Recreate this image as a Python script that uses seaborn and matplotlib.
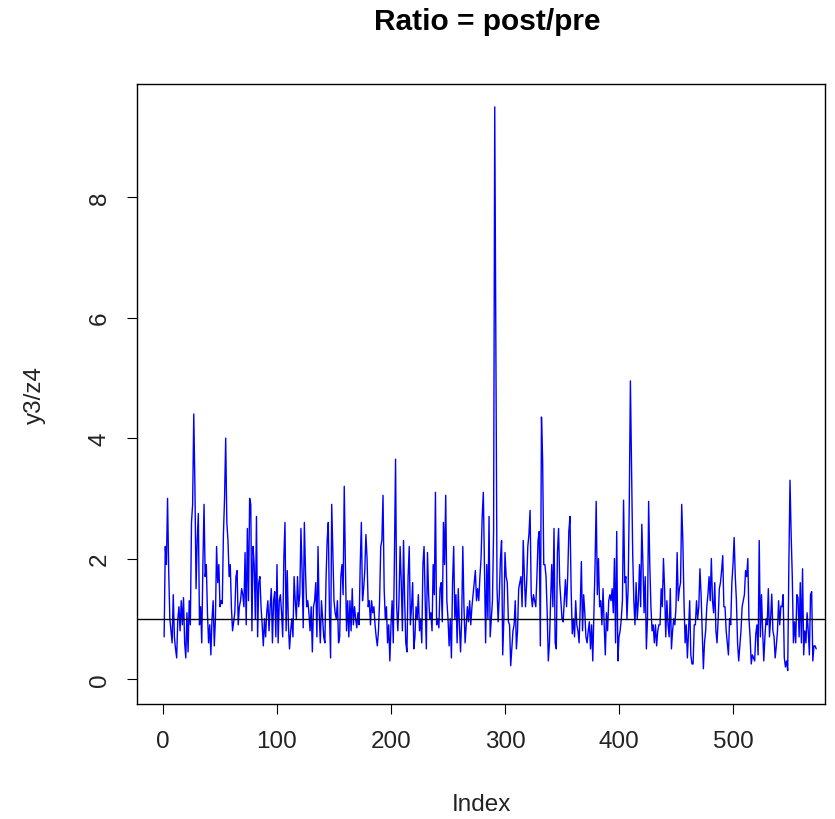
import numpy as np
import pandas as pd
import matplotlib
matplotlib.use("Agg")
import matplotlib.pyplot as plt
import seaborn as sns

# ratio values, in index order (chunks of the series)
ratio_001_055 = [0.7, 2.2, 1.9, 3.0, 1.8, 1.0, 0.8, 0.6, 1.4, 0.7, 0.5, 0.35, 1.0, 1.2, 0.8, 1.3, 0.9, 1.35, 0.6, 0.35,
                 1.1, 0.45, 1.3, 0.9, 2.6, 2.9, 4.4, 3.2, 1.5, 2.3, 2.75, 0.9, 1.2, 0.6, 1.9, 2.9, 1.7, 1.9, 1.1, 0.6,
                 0.9, 0.4, 1.0, 1.3, 0.55, 1.0, 2.2, 1.6, 1.9, 1.2, 1.3, 1.25, 2.4, 3.0, 4.0]
ratio_056_114 = [2.6, 2.3, 1.7, 1.9, 1.2, 0.8, 0.95, 1.1, 1.7, 1.8, 0.9, 1.2, 1.3, 1.5, 1.4, 1.2, 2.1, 0.9, 2.5, 1.3,
                 3.0, 2.9, 0.8, 2.2, 1.9, 1.0, 2.7, 0.7, 1.6, 1.7, 1.2, 0.9, 0.55, 1.0, 0.7, 1.1, 1.3, 0.8, 1.2, 1.5,
                 0.6, 1.3, 1.45, 0.7, 1.9, 0.6, 1.3, 1.4, 1.1, 0.7, 2.0, 2.6, 0.8, 1.8, 0.9, 0.5, 0.8, 1.0, 0.7]
ratio_115_175 = [1.7, 1.3, 1.0, 1.7, 1.2, 1.4, 2.5, 1.8, 0.85, 2.6, 1.8, 1.2, 1.3, 1.1, 0.8, 1.2, 0.45, 1.2, 1.3, 1.6,
                 0.7, 2.2, 1.1, 0.6, 1.3, 1.0, 0.7, 0.6, 1.65, 2.3, 2.6, 1.1, 0.35, 2.9, 2.1, 1.3, 1.1, 1.0, 1.3, 0.6,
                 0.7, 1.7, 1.9, 1.4, 3.2, 1.9, 0.8, 1.3, 0.7, 1.3, 0.8, 1.5, 0.9, 1.2, 1.0, 0.85, 1.1, 0.9, 1.9, 2.6,
                 1.3]
ratio_176_234 = [1.5, 1.8, 2.4, 2.0, 1.2, 1.3, 0.9, 1.3, 1.1, 1.2, 0.9, 0.7, 0.55, 0.8, 1.3, 2.2, 2.3, 3.05, 1.5, 1.0,
                 1.2, 0.6, 0.9, 0.3, 0.9, 1.3, 0.6, 2.0, 3.65, 1.2, 0.8, 1.3, 2.2, 1.6, 0.8, 2.3, 1.3, 0.6, 0.45, 1.7,
                 2.2, 0.9, 1.2, 1.6, 0.5, 0.7, 1.2, 1.0, 1.4, 0.8, 1.0, 0.6, 1.9, 2.2, 1.3, 0.5, 2.1, 1.4, 1.0]
ratio_235_292 = [1.1, 0.8, 1.9, 1.4, 3.1, 0.9, 1.0, 0.85, 1.5, 1.6, 0.95, 2.6, 1.9, 3.05, 1.3, 1.0, 0.55, 1.0, 0.35, 1.6,
                 2.2, 1.0, 1.4, 0.6, 1.5, 0.9, 0.45, 1.0, 2.2, 1.2, 0.6, 0.9, 1.2, 0.95, 1.3, 0.9, 1.2, 1.4, 1.6, 1.8,
                 1.3, 1.5, 1.3, 1.7, 2.0, 2.7, 3.1, 1.8, 0.6, 1.9, 1.0, 2.7, 0.7, 1.0, 1.3, 2.45, 9.5, 5.65]
ratio_293_353 = [1.5, 0.95, 1.4, 2.0, 2.3, 0.4, 1.0, 2.1, 1.7, 1.6, 0.95, 0.9, 0.22, 0.5, 0.8, 0.9, 1.3, 0.5, 0.8, 1.5,
                 1.6, 1.7, 1.2, 2.3, 1.7, 1.2, 1.6, 2.2, 2.4, 2.8, 1.4, 1.2, 1.4, 1.3, 1.2, 1.7, 2.3, 2.45, 0.55, 4.35,
                 3.65, 1.9, 1.9, 1.7, 1.1, 0.3, 0.6, 1.3, 1.9, 1.2, 2.5, 0.6, 0.5, 2.1, 2.5, 1.6, 1.3, 1.0, 0.95, 1.3,
                 1.65]
ratio_354_411 = [1.2, 1.7, 2.45, 2.7, 1.5, 0.75, 1.0, 0.7, 1.3, 0.9, 0.8, 0.6, 1.2, 1.95, 0.8, 1.4, 1.1, 0.7, 0.6, 0.8,
                 0.95, 0.5, 0.9, 0.3, 1.1, 1.9, 2.95, 1.4, 2.0, 1.2, 1.3, 0.9, 1.5, 0.9, 0.4, 1.1, 0.8, 1.3, 1.4, 1.3,
                 1.5, 1.1, 2.0, 0.6, 2.45, 0.3, 0.7, 0.8, 1.0, 1.3, 2.97, 1.6, 1.7, 1.0, 1.5, 2.9, 4.95, 3.55]
ratio_412_469 = [2.1, 1.3, 0.9, 1.6, 1.0, 1.3, 1.9, 1.2, 2.57, 1.9, 1.1, 1.7, 0.5, 1.0, 2.95, 1.9, 1.2, 0.8, 0.9, 0.6,
                 0.9, 0.55, 0.8, 0.9, 0.9, 1.5, 1.2, 2.0, 1.5, 0.7, 1.3, 0.9, 0.7, 1.5, 0.5, 0.8, 1.0, 0.9, 1.2, 2.1,
                 1.3, 1.5, 1.6, 2.9, 2.3, 1.3, 0.6, 0.9, 0.35, 0.8, 1.3, 0.4, 0.25, 0.25, 0.9, 0.9, 1.3, 1.0]
ratio_470_528 = [1.2, 1.83, 1.4, 0.8, 0.17, 0.6, 0.8, 1.2, 1.4, 1.7, 1.3, 2.0, 1.3, 1.1, 1.6, 0.8, 0.6, 1.0, 1.5, 1.6,
                 1.8, 2.05, 1.2, 1.2, 0.8, 0.6, 0.4, 1.0, 0.9, 1.6, 1.9, 2.35, 1.7, 1.3, 0.6, 0.3, 0.55, 0.8, 1.2, 1.3,
                 1.4, 1.8, 1.7, 2.0, 1.0, 0.7, 0.25, 0.4, 0.35, 0.3, 0.75, 0.9, 0.4, 2.3, 0.7, 1.4, 0.8, 0.3, 0.7]
ratio_529_573 = [1.0, 0.9, 1.5, 0.7, 1.0, 1.41, 0.8, 0.7, 0.35, 0.55, 0.8, 1.3, 0.9, 1.21, 1.2, 1.4, 0.35, 0.2, 0.3, 0.14,
                 1.9, 3.3, 2.4, 1.7, 0.6, 0.95, 0.6, 1.4, 1.35, 0.7, 1.6, 0.6, 1.83, 0.4, 0.8, 0.6, 1.1, 0.8, 0.4, 1.4,
                 1.45, 0.3, 0.55, 0.55, 0.5]

ref_level = 1.0
x_ticks = [0, 100, 200, 300, 400, 500]
y_ticks = [0, 2, 4, 6, 8]

ratio = np.concatenate([ratio_001_055, ratio_056_114, ratio_115_175, ratio_176_234, ratio_235_292,
                        ratio_293_353, ratio_354_411, ratio_412_469, ratio_470_528, ratio_529_573])
df = pd.DataFrame({"Index": np.arange(1, len(ratio) + 1), "ratio": ratio})

sns.set_theme(style="white")
plt.rcParams["font.family"] = ["Liberation Sans", "DejaVu Sans"]

W, H = 835, 820
fig = plt.figure(figsize=(W / 100, H / 100), dpi=100)
left, right, top, bottom = 137, 825, 85, 705
ax = fig.add_axes([left / W, 1 - bottom / H, (right - left) / W, (bottom - top) / H])

sns.lineplot(data=df, x="Index", y="ratio", color="#0000FF", linewidth=1.0, ax=ax)
ax.axhline(ref_level, color="black", linewidth=1.0)

ax.set_xlim(-22.8, 580.7)
ax.set_ylim(-0.415, 9.88)
ax.set_xticks(x_ticks)
ax.set_yticks(y_ticks)
ax.tick_params(axis="both", direction="out", length=7, width=0.8, color="black",
               labelsize=17.5, labelcolor="#222222", pad=12, bottom=True, left=True)
plt.setp(ax.get_yticklabels(), rotation=90, va="center")
for s in ax.spines.values():
    s.set_color("black")
    s.set_linewidth(1.0)

ax.set_xlabel("Index", fontsize=17.5, color="#222222")
ax.set_ylabel("y3/z4", fontsize=17.5, color="#222222")
ax.xaxis.set_label_coords(0.5, (bottom - 805) / (bottom - top))
ax.xaxis.label.set_va("center")
ax.yaxis.set_label_coords((35 - left) / (right - left), 0.5)
ax.yaxis.label.set_va("center")

fig.text(487 / W, 1 - 22 / H, "Ratio = post/pre", ha="center", va="center",
         fontsize=21.5, fontweight="bold", color="black")

fig.savefig("out.png", dpi=100)
